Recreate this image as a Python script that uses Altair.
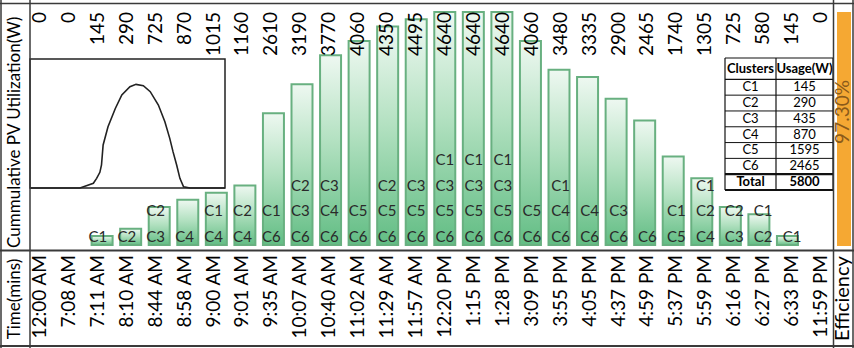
import altair as alt
import pandas as pd

# ---------------- data ----------------
times = ["12:00 AM", "7:08 AM", "7:11 AM", "8:10 AM", "8:44 AM", "8:58 AM", "9:00 AM",
         "9:01 AM", "9:35 AM", "10:07 AM", "10:40 AM", "11:02 AM", "11:29 AM", "11:57 AM",
         "12:20 PM", "1:15 PM", "1:28 PM", "3:09 PM", "3:55 PM", "4:05 PM", "4:37 PM",
         "4:59 PM", "5:37 PM", "5:59 PM", "6:16 PM", "6:27 PM", "6:33 PM", "11:59 PM"]
utilization = [0, 0, 145, 290, 725, 870, 1015, 1160, 2610, 3190, 3770, 4060, 4350, 4495,
               4640, 4640, 4640, 4060, 3480, 3335, 2900, 2465, 1740, 1305, 725, 580, 145, 0]
# active clusters per time step, listed bottom -> top as printed in each bar
active_clusters = [[], [], ["C1"], ["C2"], ["C3", "C2"], ["C4"], ["C4", "C1"], ["C4", "C2"],
                   ["C6", "C1"], ["C6", "C3", "C2"], ["C6", "C4", "C3"], ["C6", "C5"],
                   ["C6", "C5", "C2"], ["C6", "C5", "C3"], ["C6", "C5", "C3", "C1"],
                   ["C6", "C5", "C3", "C1"], ["C6", "C5", "C3", "C1"], ["C6", "C5"],
                   ["C6", "C4", "C1"], ["C6", "C4"], ["C6", "C3"], ["C6"], ["C5", "C1"],
                   ["C4", "C2", "C1"], ["C3", "C2"], ["C2", "C1"], ["C1"], []]
table_clusters = ["C1", "C2", "C3", "C4", "C5", "C6", "Total"]
table_usage = [145, 290, 435, 870, 1595, 2465, 5800]
efficiency = 97.30
# inset PV generation profile (hour of day, W)
pv_hours = [0, 6.15, 7.8, 8.2, 8.6, 8.8, 9.0, 9.6, 10.5, 11.3, 12.3, 13.05, 13.95, 14.8,
            15.8, 16.6, 17.2, 17.6, 18.05, 18.45, 18.9, 19.7, 24]
pv_power = [0, 0, 220, 450, 730, 1070, 2000, 2850, 3700, 4330, 4710, 4820, 4760, 4480,
            3860, 3080, 2310, 1690, 1070, 450, 60, 0, 0]

FONT = "Lato"
LINE = "#3a3a3a"

main = pd.DataFrame({"idx": list(range(len(times))), "time": times,
                     "util": utilization, "label": [str(v) for v in utilization]})
main["base"] = -36

rows = []
for i, stack in enumerate(active_clusters):
    for j, c in enumerate(stack):
        rows.append({"idx": i, "row": j, "cluster": c})
clus = pd.DataFrame(rows)

tbl = pd.DataFrame({"name": ["Clusters"] + table_clusters,
                    "usage": ["Usage(W)"] + [str(v) for v in table_usage]})
tbl["yc"] = [(-0.35 + 1) / 2] + [i + 0.5 for i in range(1, len(tbl))]
tbl["bold"] = [1] + [0] * 6 + [1]
tbl_lines = pd.DataFrame({"yb": [-0.35, 1, 2, 3, 4, 5, 6, 7, 8],
                          "w": [1.2, 1.2, 1, 1, 1, 1, 1, 2.2, 2.2]})

pv = pd.DataFrame({"h": pv_hours, "p": pv_power})
eff = pd.DataFrame({"e": [efficiency], "lab": [f"{efficiency:.2f}%"], "zero": [0]})
one = pd.DataFrame({"k": [0]})

xs = alt.Scale(domain=[0, len(times) - 1], range=[40, 821])
X = alt.X("idx:Q", scale=xs, axis=None)

# ---------------- bars ----------------
grad = alt.Gradient(gradient="linear",
                    stops=[alt.GradientStop(color="#eef8f1", offset=0),
                           alt.GradientStop(color="#b3e1c1", offset=0.45),
                           alt.GradientStop(color="#62bd84", offset=1)],
                    x1=0, x2=0, y1=0, y2=1)
bars = alt.Chart(main).transform_filter("datum.util > 0").mark_bar(
    size=21, fill=grad, stroke="#68b080", strokeWidth=2
).encode(
    x=X,
    y=alt.Y("util:Q", scale=alt.Scale(domain=[-36, 4640], range=[245, 12], nice=False, zero=False), axis=None),
    y2="base:Q",
)

value_labels = alt.Chart(main).mark_text(
    angle=270, align="right", baseline="middle", font=FONT, fontSize=19, color="black"
).encode(x=X, y=alt.value(12), text="label:N")

time_labels = alt.Chart(main).mark_text(
    angle=270, align="right", baseline="middle", font=FONT, fontSize=19, color="black"
).encode(x=X, y=alt.value(255), text="time:N")

cluster_labels = alt.Chart(clus).mark_text(
    align="center", baseline="middle", font=FONT, fontSize=15, color="#2a2a2a"
).encode(
    x=X,
    y=alt.Y("row:Q", scale=alt.Scale(domain=[0, 3], range=[237, 160], nice=False, zero=False), axis=None),
    text="cluster:N",
)

# ---------------- inset ----------------
ix = alt.Scale(domain=[0, 24], range=[30, 225], nice=False, zero=False)
iy = alt.Scale(domain=[0, 6000], range=[188, 59], nice=False, zero=False)
inset_box = alt.Chart(one).mark_rect(fill="white", stroke="#222", strokeWidth=1.5).encode(
    x=alt.X(datum=0, type="quantitative", scale=ix, axis=None),
    x2=alt.X2(datum=24),
    y=alt.Y(datum=0, type="quantitative", scale=iy, axis=None),
    y2=alt.Y2(datum=6000),
)
inset_line = alt.Chart(pv).mark_line(color="#222", strokeWidth=1.6).encode(
    x=alt.X("h:Q", scale=ix, axis=None),
    y=alt.Y("p:Q", scale=iy, axis=None),
)
inset = alt.layer(inset_box, inset_line)

# ---------------- table ----------------
ty = alt.Scale(domain=[-0.35, 8], range=[58, 190], nice=False, zero=False)
tbl_bg = alt.Chart(one).mark_rect(fill="white").encode(
    x=alt.value(725), x2=alt.value(833),
    y=alt.Y(datum=-0.35, type="quantitative", scale=ty, axis=None), y2=alt.Y2(datum=8),
)
tbl_h = alt.Chart(tbl_lines).mark_rule(color="#111").encode(
    x=alt.value(725), x2=alt.value(833),
    y=alt.Y("yb:Q", scale=ty, axis=None),
    strokeWidth=alt.StrokeWidth("w:Q", scale=None),
)
tbl_v = alt.Chart(pd.DataFrame({"xv": [725, 776, 833]})).mark_rule(color="#111", strokeWidth=1.2).encode(
    x=alt.X("xv:Q", scale=None),
    y=alt.Y(datum=-0.35, type="quantitative", scale=ty, axis=None), y2=alt.Y2(datum=8),
)


def tbl_text(field, xpos, bold):
    return alt.Chart(tbl).transform_filter(f"datum.bold == {bold}").mark_text(
        font=FONT, fontSize=13, color="black", baseline="middle",
        fontWeight="bold" if bold else "normal"
    ).encode(x=alt.value(xpos), y=alt.Y("yc:Q", scale=ty, axis=None), text=f"{field}:N")


table = alt.layer(tbl_bg, tbl_h, tbl_v,
                  tbl_text("name", 750.5, 0), tbl_text("name", 750.5, 1),
                  tbl_text("usage", 804.5, 0), tbl_text("usage", 804.5, 1))

# ---------------- efficiency column ----------------
ey = alt.Scale(domain=[0, 100], range=[246, 5.5], nice=False, zero=False)
eff_bar = alt.Chart(eff).mark_rect(fill="#f5a833").encode(
    x=alt.value(837), x2=alt.value(851),
    y=alt.Y("e:Q", scale=ey, axis=None), y2="zero:Q",
)
eff_text = alt.Chart(eff).mark_text(angle=270, align="center", baseline="middle",
                                    font=FONT, fontSize=19, color="#8a5a1a").encode(
    x=alt.value(843), y=alt.value(112), text="lab:N")
eff_title = alt.Chart(one).mark_text(text="Efficiency", angle=270, align="left", baseline="middle",
                                     font=FONT, fontSize=20, color="black").encode(
    x=alt.value(843), y=alt.value(341))

# ---------------- titles & frame ----------------
ytitle = alt.Chart(one).mark_text(text="Cummulative PV Utilization(W)", angle=270, align="left",
                                  baseline="middle", font=FONT, fontSize=17, color="black").encode(
    x=alt.value(15), y=alt.value(248))
ttitle = alt.Chart(one).mark_text(text="Time(mins)", angle=270, align="center",
                                  baseline="middle", font=FONT, fontSize=17, color="black").encode(
    x=alt.value(15), y=alt.value(299))


def hrule(y, x1, x2, w=1.5):
    return alt.Chart(one).mark_rule(color=LINE, strokeWidth=w).encode(
        x=alt.value(x1), x2=alt.value(x2), y=alt.value(y))


def vrule(x, y1, y2, w=1.5):
    return alt.Chart(one).mark_rule(color=LINE, strokeWidth=w).encode(
        x=alt.value(x), y=alt.value(y1), y2=alt.value(y2))


frame = [
    hrule(3.5, 0, 854), hrule(346, 0, 854, 2), hrule(250.5, 0, 854, 2),
    vrule(1, 0, 348), vrule(30, 0, 348), vrule(833.5, 0, 348), vrule(853, 0, 348),
]

chart = alt.layer(
    bars, inset, table, cluster_labels, value_labels, time_labels,
    eff_bar, eff_text, eff_title, ytitle, ttitle, *frame
).resolve_scale(
    x="independent", y="independent"
).properties(
    width=854, height=348, padding=0, background="white",
    autosize=alt.AutoSizeParams(type="none"),
).configure_view(stroke=None)

chart.save("out.html", embed_options={"renderer": "svg", "actions": False})
